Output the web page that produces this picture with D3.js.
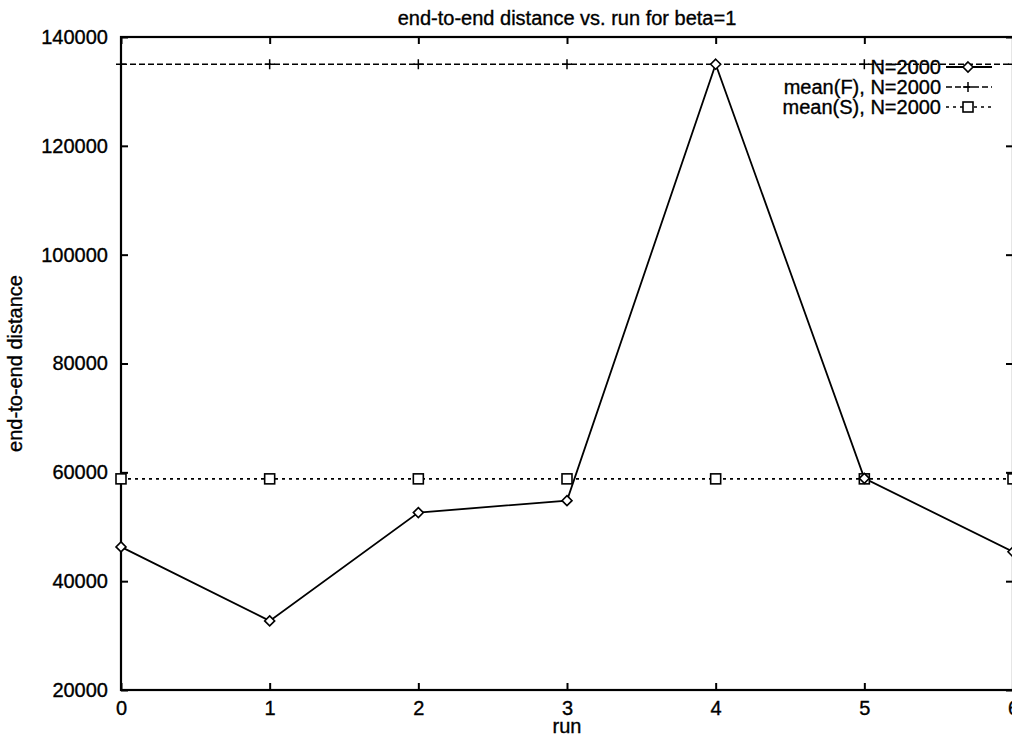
<!DOCTYPE html>
<html><head><meta charset="utf-8">
<script src="https://cdn.jsdelivr.net/npm/d3@7"></script>
<style>body{margin:0;background:#fff}svg{display:block}text{font-family:"Liberation Sans",Arial,sans-serif;fill:#000;stroke:#000;stroke-width:0.35px}</style>
</head><body><svg id="c" width="1012" height="737"></svg>
<script>
const runs = [0,1,2,3,4,5,6];
const distN2000 = [46300, 32700, 52600, 54800, 135000, 58900, 45400];
const meanF = 135000;
const meanS = 58800;
const xTicks = [0,1,2,3,4,5,6];
const yTicks = [20000,40000,60000,80000,100000,120000,140000];
const legendLabels = ["N=2000","mean(F), N=2000","mean(S), N=2000"];

const svg = d3.select("#c");
const L=121, R=1013, T=37, B=690;
const x = d3.scaleLinear().domain([0,6]).range([L,R]);
const y = d3.scaleLinear().domain([20000,140000]).range([B,T]);
const fs = 20;

const ax = (g)=>{g.selectAll(".domain").remove(); g.selectAll("line").attr("stroke","#000").attr("stroke-width",2);};
svg.append("g").attr("transform",`translate(${L},0)`)
  .call(d3.axisLeft(y).tickValues(yTicks).tickSize(-7).tickPadding(13).tickFormat(d3.format("d")))
  .call(ax).selectAll("text").style("font-size",fs+"px").style("font-family","Liberation Sans, Arial");
svg.append("g").attr("transform",`translate(${R},0)`)
  .call(d3.axisRight(y).tickValues(yTicks).tickSize(-7).tickFormat(""))
  .call(ax);
svg.append("g").attr("transform",`translate(0,${B})`)
  .call(d3.axisBottom(x).tickValues(xTicks).tickSize(-7).tickPadding(11).tickFormat(d3.format("d")))
  .call(ax).selectAll("text").style("font-size",fs+"px").style("font-family","Liberation Sans, Arial");
svg.append("g").attr("transform",`translate(0,${T})`)
  .call(d3.axisTop(x).tickValues(xTicks).tickSize(-7).tickFormat(""))
  .call(ax);
svg.append("rect").attr("x",L).attr("y",T).attr("width",R-L).attr("height",B-T)
  .attr("fill","none").attr("stroke","#000").attr("stroke-width",2.2);

const line = d3.line().x(d=>x(d[0])).y(d=>y(d[1]));
const fPts = runs.map(r=>[r,meanF]);
const sPts = runs.map(r=>[r,meanS]);
svg.append("path").attr("d",line(fPts)).attr("fill","none").attr("stroke","#000").attr("stroke-width",1.4).attr("stroke-dasharray","6,3");
svg.append("path").attr("d",line(sPts)).attr("fill","none").attr("stroke","#000").attr("stroke-width",1.6).attr("stroke-dasharray","3,4");
const dPts = runs.map((r,i)=>[r,distN2000[i]]);
svg.append("path").attr("d",line(dPts)).attr("fill","none").attr("stroke","#000").attr("stroke-width",1.8);

function plus(g,cx,cy){g.append("path").attr("d",`M${cx-5},${cy}H${cx+5}M${cx},${cy-5}V${cy+5}`).attr("stroke","#000").attr("stroke-width",1.5);}
function square(g,cx,cy){g.append("rect").attr("x",cx-5).attr("y",cy-5).attr("width",10).attr("height",10).attr("fill","#fff").attr("stroke","#000").attr("stroke-width",1.6);}
function diamond(g,cx,cy){g.append("path").attr("d",`M${cx},${cy-5}L${cx+5},${cy}L${cx},${cy+5}L${cx-5},${cy}Z`).attr("fill","#fff").attr("stroke","#000").attr("stroke-width",1.6);}

const mk = svg.append("g");
fPts.forEach(d=>plus(mk,x(d[0]),y(d[1])));
sPts.forEach(d=>square(mk,x(d[0]),y(d[1])));
dPts.forEach(d=>diamond(mk,x(d[0]),y(d[1])));

const lg = svg.append("g");
const lx1=946, lx2=992, lmx=968, ltx=941, ly0=67, ldy=20;
const styles=[{dash:null,w:1.8,m:diamond},{dash:"6,3",w:1.4,m:plus},{dash:"3,4",w:1.6,m:square}];
legendLabels.forEach((t,i)=>{
  const yy = ly0+i*ldy;
  lg.append("text").attr("x",ltx).attr("y",yy+7).attr("text-anchor","end").style("font-size",fs+"px").text(t);
  const ln = lg.append("line").attr("x1",lx1).attr("x2",lx2).attr("y1",yy).attr("y2",yy).attr("stroke","#000").attr("stroke-width",styles[i].w);
  if(styles[i].dash) ln.attr("stroke-dasharray",styles[i].dash);
  styles[i].m(lg,lmx,yy);
});

svg.append("text").attr("x",(L+R)/2).attr("y",25).attr("text-anchor","middle").style("font-size",fs+"px").text("end-to-end distance vs. run for beta=1");
svg.append("text").attr("x",(L+R)/2).attr("y",733).attr("text-anchor","middle").style("font-size",fs+"px").text("run");
svg.append("text").attr("transform",`translate(22,${(T+B)/2}) rotate(-90)`).attr("text-anchor","middle").style("font-size",fs+"px").text("end-to-end distance");
</script></body></html>
